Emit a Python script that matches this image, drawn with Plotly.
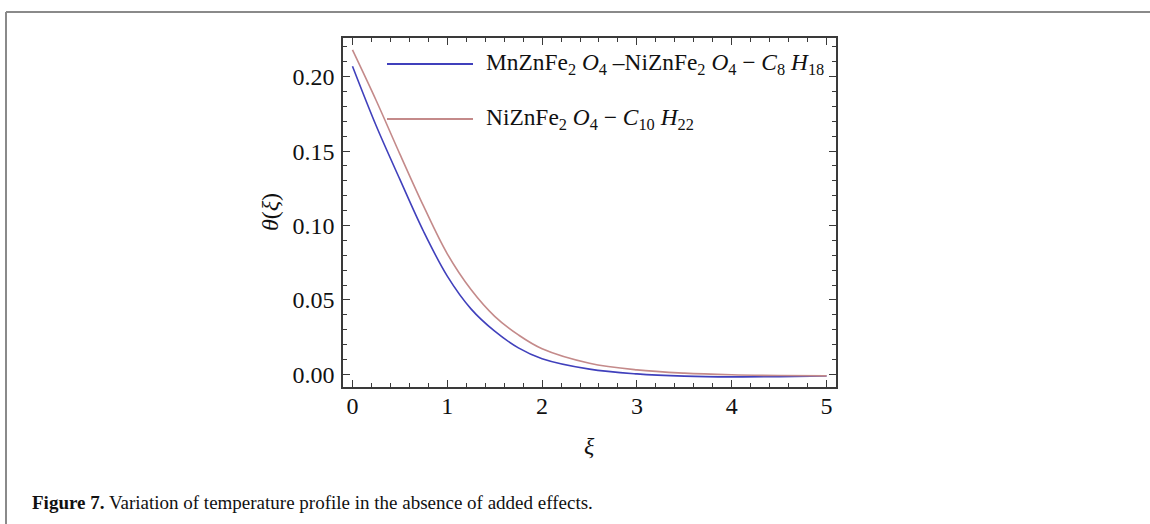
import plotly.graph_objects as go

# Temperature profile theta(xi) for the two hybrid ferrofluids
xi = [0.0, 0.25, 0.5, 0.75, 1.0, 1.25, 1.5, 1.75, 2.0, 2.5, 3.0, 3.5, 4.0, 4.5, 5.0]
theta_mn = [0.207, 0.167, 0.131, 0.096, 0.066, 0.044, 0.029, 0.0178, 0.0105, 0.0035, 0.0003,
            -0.0012, -0.0017, -0.0015, -0.0011]
theta_ni = [0.218, 0.184, 0.148, 0.113, 0.081, 0.057, 0.039, 0.0265, 0.0172, 0.0075, 0.0030,
            0.0008, -0.0003, -0.0008, -0.0010]

series_names = [
    "MnZnFe<sub>2</sub> <i>O</i><sub>4</sub> –NiZnFe<sub>2</sub> <i>O</i><sub>4</sub> − <i>C</i><sub>8</sub> <i>H</i><sub>18</sub>",
    "NiZnFe<sub>2</sub> <i>O</i><sub>4</sub> − <i>C</i><sub>10</sub> <i>H</i><sub>22</sub>",
]
series_colors = ["#4040bc", "#c48a8a"]

x_ticks = [0, 1, 2, 3, 4, 5]
y_ticks = [0.00, 0.05, 0.10, 0.15, 0.20]

caption = "<b>Figure 7.</b> Variation of temperature profile in the absence of added effects."

W, H = 1150, 524
ML, MR, MT, MB = 343, 314, 38, 137
PW, PH = W - ML - MR, H - MT - MB
SERIF = "Liberation Serif, Times New Roman, serif"
AXIS_COL = "#3a3a3a"


def px(x):
    return (x - ML) / PW


def py(y):
    return (H - MB - y) / PH


fig = go.Figure()
for ys, name, col in zip([theta_mn, theta_ni], series_names, series_colors):
    fig.add_trace(go.Scatter(x=xi, y=ys, mode="lines", name=name, showlegend=False,
                             line=dict(color=col, width=1.6, shape="spline", smoothing=1.0)))

axis_common = dict(
    showline=True, linecolor=AXIS_COL, linewidth=1.6, mirror="ticks",
    ticks="inside", ticklen=7, tickwidth=1.3, tickcolor=AXIS_COL,
    showgrid=False, zeroline=False,
    tickfont=dict(family=SERIF, size=24, color="#111"),
)

fig.update_xaxes(range=[-0.1, 5.1], tickvals=x_ticks, ticktext=[str(v) for v in x_ticks],
                 minor=dict(dtick=0.2, tick0=0, ticks="inside", ticklen=4, tickwidth=1.1,
                            tickcolor=AXIS_COL, showgrid=False),
                 ticklabelstandoff=-4, **axis_common)
fig.update_yaxes(range=[-0.0085, 0.226], tickvals=y_ticks, ticktext=[f"{v:.2f}" for v in y_ticks],
                 minor=dict(dtick=0.01, tick0=0, ticks="inside", ticklen=4, tickwidth=1.1,
                            tickcolor=AXIS_COL, showgrid=False),
                 ticklabelstandoff=2, **axis_common)

shapes = []
annotations = []

# legend: long line swatches followed by the formulas
for ly, name, col in zip([64, 119], series_names, series_colors):
    shapes.append(dict(type="line", xref="paper", yref="paper",
                       x0=px(387), x1=px(473), y0=py(ly), y1=py(ly),
                       line=dict(color=col, width=1.8)))
    annotations.append(dict(xref="paper", yref="paper", x=px(484), y=py(ly), text=name,
                            showarrow=False, xanchor="left", yanchor="middle",
                            font=dict(family=SERIF, size=23.4, color="#111")))

# axis titles
annotations.append(dict(xref="paper", yref="paper", x=px(589), y=py(446), text="<i>ξ</i>",
                        showarrow=False, xanchor="center", yanchor="middle",
                        font=dict(family=SERIF, size=24, color="#111")))
annotations.append(dict(xref="paper", yref="paper", x=px(270), y=py(212), text="<i>θ</i>(<i>ξ</i>)",
                        showarrow=False, xanchor="center", yanchor="middle", textangle=-90,
                        font=dict(family=SERIF, size=24, color="#111")))

# caption
annotations.append(dict(xref="paper", yref="paper", x=px(30), y=py(502), text=caption,
                        showarrow=False, xanchor="left", yanchor="middle",
                        font=dict(family=SERIF, size=19, color="#111")))

# page frame along the top and left edges
shapes.append(dict(type="line", xref="paper", yref="paper", x0=px(6), x1=px(W + 5),
                   y0=py(12), y1=py(12), line=dict(color="#8a8a8a", width=2)))
shapes.append(dict(type="line", xref="paper", yref="paper", x0=px(6), x1=px(6),
                   y0=py(12), y1=py(H + 5), line=dict(color="#8a8a8a", width=2)))

fig.update_layout(
    width=W, height=H,
    margin=dict(l=ML, r=MR, t=MT, b=MB),
    paper_bgcolor="white", plot_bgcolor="white",
    shapes=shapes, annotations=annotations,
)

fig.write_html("out.html")
